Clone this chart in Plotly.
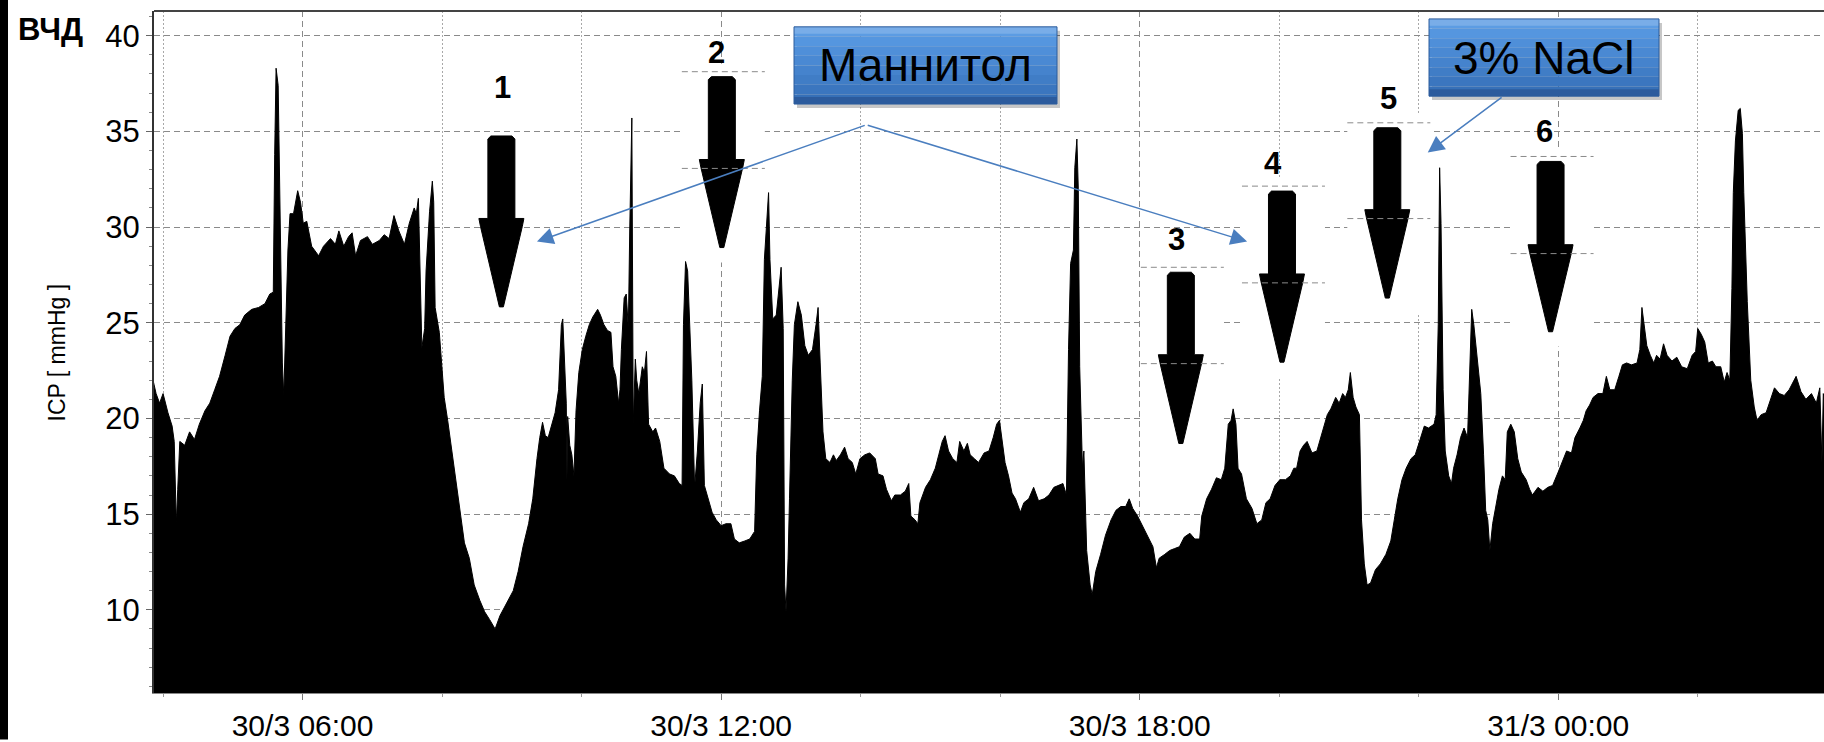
import plotly.graph_objects as go

# ---------------- data (hours since 30/3 00:00, ICP mmHg) ----------------
hours = [
    3.85, 3.90, 3.95, 4.00, 4.07, 4.13, 4.16, 4.19, 4.21, 4.24, 4.31, 4.38, 4.45, 4.52, 4.60, 4.67,
    4.74, 4.81, 4.89, 4.96, 5.03, 5.10, 5.17, 5.27, 5.37, 5.46, 5.53, 5.58, 5.60, 5.62, 5.65, 5.68,
    5.71, 5.73, 5.76, 5.79, 5.82, 5.87, 5.93, 5.97, 6.01, 6.06, 6.13, 6.23, 6.30, 6.40, 6.47, 6.52,
    6.59, 6.66, 6.71, 6.76, 6.83, 6.93, 7.00, 7.10, 7.17, 7.24, 7.31, 7.38, 7.46, 7.53, 7.60, 7.63,
    7.66, 7.68, 7.71, 7.75, 7.77, 7.82, 7.86, 7.88, 7.90, 7.96, 8.00, 8.03, 8.08, 8.13, 8.18, 8.23,
    8.28, 8.32, 8.39, 8.46, 8.54, 8.61, 8.68, 8.76, 8.83, 8.92, 9.02, 9.09, 9.16, 9.24, 9.30, 9.36,
    9.40, 9.44, 9.48, 9.52, 9.57, 9.62, 9.67, 9.71, 9.73, 9.75, 9.78, 9.79, 9.80, 9.83,
    9.86, 9.89, 9.92, 9.96, 10.01, 10.06, 10.11, 10.16, 10.23, 10.27, 10.32, 10.37, 10.42, 10.45,
    10.49, 10.53, 10.55, 10.57, 10.61, 10.64, 10.67, 10.69, 10.72, 10.74, 10.77, 10.79, 10.82, 10.87,
    10.90, 10.93, 10.96, 11.02, 11.06, 11.12, 11.18, 11.26, 11.33, 11.40, 11.44, 11.46, 11.49, 11.52,
    11.55, 11.58, 11.62, 11.66, 11.70, 11.73, 11.76, 11.81, 11.87, 11.93, 12.00, 12.07, 12.14, 12.19,
    12.26, 12.34, 12.41, 12.48, 12.51, 12.55, 12.59, 12.62, 12.66, 12.68, 12.70, 12.74, 12.79, 12.83,
    12.86, 12.89, 12.91, 12.93, 12.96, 12.98, 13.02, 13.05, 13.10, 13.15, 13.20, 13.25, 13.31, 13.36,
    13.39, 13.42, 13.46, 13.50, 13.56, 13.61, 13.65, 13.71, 13.77, 13.82, 13.88, 13.93, 13.99, 14.06,
    14.13, 14.21, 14.25, 14.32, 14.37, 14.44, 14.49, 14.57, 14.64, 14.69, 14.72, 14.78, 14.82, 14.85,
    14.93, 15.00, 15.07, 15.12, 15.17, 15.21, 15.26, 15.32, 15.38, 15.42, 15.48, 15.53, 15.57, 15.63,
    15.69, 15.77, 15.84,
    15.90, 15.95, 15.99, 16.02, 16.07, 16.12, 16.17, 16.22, 16.29, 16.34, 16.41, 16.48, 16.55, 16.63,
    16.70, 16.77, 16.84, 16.90, 16.95, 16.98, 17.01, 17.05, 17.07, 17.10, 17.12, 17.14, 17.18, 17.20,
    17.24, 17.29, 17.32, 17.37, 17.44, 17.51, 17.59, 17.66, 17.73, 17.80, 17.85, 17.90, 17.97, 18.04,
    18.12, 18.19, 18.24, 18.28, 18.36, 18.43, 18.50, 18.57, 18.64, 18.72, 18.79, 18.86, 18.89, 18.96,
    19.03, 19.10, 19.17, 19.22, 19.27, 19.31, 19.34, 19.38, 19.41, 19.46, 19.53, 19.61, 19.68, 19.75,
    19.81, 19.87, 19.94, 20.01, 20.09, 20.16, 20.21, 20.25, 20.30, 20.35, 20.40, 20.47, 20.54, 20.62,
    20.69, 20.74, 20.81, 20.86, 20.91, 20.95, 20.99, 21.02, 21.06, 21.10, 21.15, 21.18, 21.22, 21.26,
    21.31, 21.38, 21.45, 21.53, 21.60, 21.65, 21.70, 21.76, 21.82, 21.89,
    21.95, 22.02, 22.08, 22.14, 22.22, 22.25, 22.28, 22.30, 22.32, 22.35, 22.38, 22.43, 22.47, 22.50,
    22.55, 22.60, 22.65, 22.70, 22.74, 22.76, 22.79, 22.84, 22.89, 22.93, 22.96, 22.99, 23.02, 23.06,
    23.11, 23.15, 23.20, 23.24, 23.27, 23.32, 23.37, 23.42, 23.47, 23.54, 23.59, 23.63, 23.71, 23.78,
    23.85, 23.92, 24.00, 24.07, 24.12, 24.19, 24.24, 24.31, 24.36, 24.40, 24.45, 24.50, 24.57, 24.64,
    24.69, 24.74, 24.81, 24.87, 24.92, 24.98, 25.05, 25.13, 25.17, 25.20, 25.23, 25.27, 25.32, 25.37,
    25.41, 25.46, 25.51, 25.56, 25.63, 25.70, 25.77, 25.85, 25.92, 25.97, 26.00, 26.05, 26.10, 26.15,
    26.21, 26.26, 26.33, 26.38, 26.42, 26.46, 26.49, 26.51, 26.54, 26.58, 26.61, 26.64, 26.66, 26.71,
    26.76, 26.81, 26.85, 26.91, 26.98, 27.02, 27.10, 27.17, 27.24, 27.31, 27.41, 27.48, 27.55, 27.63,
    27.70, 27.75, 27.78, 27.80, 27.85,
]
icp = [
    22.1, 21.3, 20.8, 21.3, 20.3, 19.6, 18.8, 14.5, 16.3, 18.8, 18.6, 19.3, 18.9, 19.7, 20.4, 20.8,
    21.5, 22.2, 23.3, 24.3, 24.7, 24.9, 25.4, 25.7, 25.8, 26.0, 26.5, 26.6, 33.8, 38.3, 37.4, 30.1,
    22.9, 21.2, 25.2, 28.8, 30.7, 30.7, 31.9, 31.3, 30.2, 30.3, 29.0, 28.5, 29.0, 29.4, 29.1, 29.8,
    29.0, 29.5, 29.7, 28.5, 29.3, 29.5, 29.1, 29.3, 29.6, 29.4, 30.6, 29.8, 29.1, 30.2, 31.0, 30.7,
    31.5, 28.8, 23.7, 24.7, 27.7, 30.8, 32.4, 31.3, 25.8, 24.5, 22.4, 21.1, 19.9, 18.6, 17.2, 15.8,
    14.7, 13.5, 12.7, 11.3, 10.5, 9.9, 9.5, 9.0, 9.7, 10.3, 11.0, 12.0, 13.3, 14.5, 15.8, 17.9,
    19.0, 19.8, 19.1, 19.0, 19.6, 20.3, 21.5, 24.9, 25.2, 23.6, 20.8, 16.8, 20.1, 18.6,
    18.1, 17.0, 20.4, 22.4, 23.6, 24.3, 24.9, 25.3, 25.7, 25.4, 24.9, 24.6, 24.5, 22.7,
    22.2, 20.8, 21.5, 23.6, 26.3, 26.5, 24.7, 29.9, 35.7, 19.7, 23.1, 22.0, 21.3, 22.7,
    22.4, 23.5, 19.7, 19.3, 19.5, 18.8, 17.4, 17.1, 17.0, 16.6, 16.5, 24.9, 28.2, 27.7,
    24.5, 22.0, 16.4, 18.3, 20.8, 21.8, 16.5, 15.8, 15.1, 14.7, 14.4, 14.5, 14.5, 13.7,
    13.5, 13.6, 13.7, 14.1, 18.1, 20.4, 22.2, 28.3, 30.4, 31.8, 28.3, 25.2, 25.4, 27.0,
    27.9, 24.7, 11.3, 9.9, 12.7, 15.8, 22.0, 24.9, 26.1, 25.4, 23.8, 23.3, 23.6, 24.9,
    25.8, 22.9, 19.3, 17.9, 17.7, 18.1, 17.8, 18.1, 18.5, 17.9, 17.7, 17.1, 17.9, 18.1,
    18.2, 17.9, 17.1, 17.0, 16.3, 15.7, 16.0, 16.0, 16.2, 16.6, 14.9, 14.7, 14.5, 15.6,
    16.4, 16.8, 17.4, 18.1, 18.8, 19.1, 18.3, 17.9, 17.7, 18.8, 18.3, 18.7, 18.1, 17.9,
    17.7, 18.2, 18.3,
    19.0, 19.7, 19.9, 19.0, 17.7, 17.0, 16.1, 15.8, 15.1, 15.6, 15.8, 16.4, 15.7, 15.8,
    16.0, 16.4, 16.5, 16.6, 16.0, 23.6, 28.1, 28.8, 33.1, 34.6, 32.0, 22.7, 17.4, 18.3,
    13.1, 11.3, 10.8, 12.0, 12.9, 13.9, 14.7, 15.2, 15.4, 15.4, 15.8, 15.3, 14.9, 14.4,
    13.8, 13.3, 12.2, 12.7, 12.9, 13.1, 13.2, 13.3, 13.8, 14.0, 13.7, 13.7, 14.9, 15.8,
    16.3, 16.9, 16.8, 17.4, 19.7, 19.9, 20.5, 19.7, 17.4, 17.1, 15.8, 15.3, 14.5, 14.7,
    15.6, 15.8, 16.5, 16.8, 16.8, 17.0, 17.4, 17.4, 18.3, 18.6, 18.8, 18.2, 18.3, 19.3,
    20.2, 20.5, 21.1, 20.8, 21.3, 21.1, 21.5, 22.4, 21.1, 20.6, 20.2, 14.7, 12.4, 11.3,
    11.4, 12.1, 12.4, 12.9, 13.6, 14.7, 15.8, 16.8, 17.4, 17.9,
    18.1, 18.9, 19.6, 19.5, 19.7, 20.2, 24.9, 33.1, 30.2, 21.5, 18.3, 17.0, 16.6, 17.4,
    18.1, 19.0, 19.5, 19.0, 23.1, 25.7, 24.9, 22.9, 21.3, 18.1, 15.2, 14.7, 13.1, 14.5,
    15.6, 16.3, 17.0, 16.8, 19.3, 19.7, 19.3, 17.9, 17.2, 16.8, 16.3, 16.0, 16.4, 16.2,
    16.4, 16.5, 17.2, 17.9, 18.3, 18.2, 19.0, 19.5, 19.9, 20.4, 20.7, 21.1, 21.3, 21.3,
    22.2, 21.5, 21.5, 22.2, 22.8, 22.9, 22.8, 22.9, 23.6, 25.8, 24.9, 23.8, 23.3, 22.9,
    23.3, 23.1, 23.9, 23.3, 23.0, 23.2, 22.7, 22.6, 23.3, 23.5, 24.7, 24.4, 24.0, 22.9,
    23.0, 22.7, 22.7, 21.9, 22.4, 22.0, 26.8, 31.8, 34.5, 36.1, 36.2, 34.9, 31.8, 26.1,
    22.0, 20.6, 19.9, 20.2, 20.3, 20.7, 21.6, 21.3, 21.2, 21.5, 22.2, 21.4, 21.0, 21.3,
    20.8, 21.6, 17.7, 21.3, 20.2,
]

# x tick labels
tick_hours = [6, 12, 18, 24]
tick_text = ["30/3 06:00", "30/3 12:00", "30/3 18:00", "31/3 00:00"]
minor_hours = [4, 8, 10, 14, 16, 20, 22, 26]

# numbered bolus arrows (hour, top, head base, tip values, label position)
arrow_labels = ["1", "2", "3", "4", "5", "6"]
arrow_hour = [8.85, 12.01, 18.59, 20.04, 21.55, 23.89]
arrow_top = [34.76, 37.86, 27.64, 31.88, 35.19, 33.43]
arrow_base = [30.45, 33.53, 23.33, 27.55, 30.91, 29.08]
arrow_tip = [25.83, 28.93, 18.69, 22.94, 26.29, 24.53]
label_hour = [8.86, 11.93, 18.53, 19.91, 21.56, 23.81]
label_val = [37.29, 39.10, 29.36, 33.33, 36.74, 34.98]
arrow_boxed = [False, True, True, True, True, True]

# callouts: (apex) -> (targets)
mannitol_apex = (14.08, 35.34)
mannitol_targets = [(9.36, 29.24), (19.54, 29.24)]
nacl_tail = (23.21, 36.84)
nacl_target = (22.13, 33.90)

# ---------------- layout geometry ----------------
W, H = 1824, 742
ML, MR, MT, MB = 154, 0, 11, 42
PW, PH = W - ML - MR, H - MT - MB
XR = [3.87, 27.81]
YR = [5.655, 41.29]
PXH = PW / (XR[1] - XR[0])  # px per hour
PXU = PH / (YR[1] - YR[0])  # px per mmHg

def px(xp):
    return (xp - ML) / PW

def py(yp):
    return (H - MB - yp) / PH

FONT = "Liberation Sans, Arial, sans-serif"

fig = go.Figure()
fig.add_trace(go.Scatter(
    x=hours, y=icp, mode="lines", fill="tozeroy",
    line=dict(color="black", width=1), fillcolor="black",
    hoverinfo="skip", showlegend=False,
))

shapes = []
annotations = []

# white patches + dashes + arrows
for i in range(len(arrow_hour)):
    xc = arrow_hour[i]
    top, base, tip = arrow_top[i], arrow_base[i], arrow_tip[i]
    dl, dr = xc - 40 / PXH, xc + 43 / PXH
    top_d = top + 5 / PXU
    base_d = base - 9 / PXU
    if arrow_boxed[i]:
        shapes.append(dict(type="rect", xref="x", yref="y", x0=dl, x1=dr,
                           y0=tip - 15 / PXU, y1=top_d + 8 / PXU,
                           fillcolor="white", line=dict(width=0), layer="between"))
    sw, hw, tw = 13.5 / PXH, 22.5 / PXH, 2 / PXH
    f = 8 / PXU
    r = 3 / PXU
    path = (f"M {xc - sw},{base} L {xc - sw},{top - r} L {xc - sw + 3 / PXH},{top} "
            f"L {xc + sw - 3 / PXH},{top} L {xc + sw},{top - r} L {xc + sw},{base} "
            f"L {xc + hw},{base} L {xc + hw * 0.93},{base - f} L {xc + tw},{tip} "
            f"L {xc - tw},{tip} L {xc - hw * 0.93},{base - f} L {xc - hw},{base} Z")
    shapes.append(dict(type="path", xref="x", yref="y", path=path,
                       fillcolor="black", line=dict(color="black", width=1), layer="above"))
    if arrow_boxed[i]:
        for yv in (top_d, base_d):
            shapes.append(dict(type="line", xref="x", yref="y", x0=dl, x1=dr, y0=yv, y1=yv,
                               line=dict(color="#8a8a8a", width=1, dash="6px,4px"), layer="above"))
    annotations.append(dict(x=label_hour[i], y=label_val[i], xref="x", yref="y",
                            xanchor="center", yanchor="middle",
                            text=f"<b>{arrow_labels[i]}</b>", showarrow=False,
                            font=dict(family=FONT, size=31, color="black")))

# blue callout boxes
def callout(x0, y0, x1, y1, text):
    shapes.append(dict(type="rect", xref="paper", yref="paper",
                       x0=px(x0 + 3), x1=px(x1 + 3), y0=py(y1 + 4), y1=py(y0 + 4),
                       fillcolor="rgba(0,0,0,0.22)", line=dict(width=0), layer="above"))
    bands = ["#5c9ce3", "#5596df", "#4f8fd9", "#4a89d3", "#4583cd", "#407dc6", "#3b76bf", "#3670b8"]
    n = len(bands)
    for k, c in enumerate(bands):
        ya = y0 + (y1 - y0) * k / n
        yb = y0 + (y1 - y0) * (k + 1) / n
        shapes.append(dict(type="rect", xref="paper", yref="paper",
                           x0=px(x0), x1=px(x1), y0=py(yb), y1=py(ya),
                           fillcolor=c, line=dict(width=0), layer="above"))
    # bevel highlights
    shapes.append(dict(type="rect", xref="paper", yref="paper",
                       x0=px(x0), x1=px(x1), y0=py(y0 + 7), y1=py(y0),
                       fillcolor="rgba(255,255,255,0.18)", line=dict(width=0), layer="above"))
    shapes.append(dict(type="rect", xref="paper", yref="paper",
                       x0=px(x0), x1=px(x1), y0=py(y1), y1=py(y1 - 7),
                       fillcolor="rgba(0,0,40,0.18)", line=dict(width=0), layer="above"))
    shapes.append(dict(type="rect", xref="paper", yref="paper",
                       x0=px(x0), x1=px(x1), y0=py(y1), y1=py(y0),
                       fillcolor="rgba(0,0,0,0)", line=dict(color="#2c5c9c", width=1), layer="above"))
    annotations.append(dict(x=px((x0 + x1) / 2), y=py((y0 + y1) / 2), xref="paper", yref="paper",
                            xanchor="center", yanchor="middle",
                            text=text, showarrow=False,
                            font=dict(family=FONT, size=46, color="black")))

callout(794, 27, 1057, 105, "Маннитол")
callout(1429, 19, 1659, 97, "3% NaCl")

# blue pointer lines
for tx, ty in mannitol_targets:
    annotations.append(dict(x=tx, y=ty, xref="x", yref="y", ax=mannitol_apex[0], ay=mannitol_apex[1],
                            axref="x", ayref="y", text="", showarrow=True, arrowhead=2,
                            arrowsize=2.2, arrowwidth=1.5, arrowcolor="#4a7ebf"))
annotations.append(dict(x=nacl_target[0], y=nacl_target[1], xref="x", yref="y",
                        ax=nacl_tail[0], ay=nacl_tail[1], axref="x", ayref="y", text="",
                        showarrow=True, arrowhead=2, arrowsize=2.2, arrowwidth=1.5,
                        arrowcolor="#4a7ebf"))

# frame decorations
shapes.append(dict(type="line", xref="paper", yref="paper", x0=0, x1=1, y0=1, y1=1,
                   line=dict(color="#444444", width=2), layer="above"))
shapes.append(dict(type="rect", xref="paper", yref="paper", x0=px(0), x1=px(8),
                   y0=py(H + 5), y1=py(-5), fillcolor="black", line=dict(width=0), layer="above"))

annotations.append(dict(x=px(16), y=py(30), xref="paper", yref="paper", xanchor="left",
                        yanchor="middle", text="<b>ВЧД</b>", showarrow=False,
                        font=dict(family=FONT, size=31, color="black")))
annotations.append(dict(x=px(57), y=py(356), xref="paper", yref="paper", text="ICP [ mmHg ]",
                        xanchor="center", yanchor="middle",
                        textangle=-90, showarrow=False,
                        font=dict(family=FONT, size=23, color="black")))

fig.update_layout(
    width=W, height=H,
    margin=dict(l=ML, r=MR, t=MT, b=MB),
    paper_bgcolor="white", plot_bgcolor="white",
    showlegend=False,
    shapes=shapes, annotations=annotations,
    xaxis=dict(
        range=XR, tickmode="array", tickvals=tick_hours, ticktext=tick_text,
        ticks="outside", ticklen=6, tickcolor="#777777",
        tickfont=dict(family=FONT, size=30, color="black"),
        showline=True, linecolor="#888888", linewidth=1,
        showgrid=True, gridcolor="#8a8a8a", gridwidth=1, griddash="6px,4px",
        zeroline=False,
        minor=dict(tickmode="array", tickvals=minor_hours, ticks="outside", ticklen=3,
                   tickcolor="#999999", showgrid=True, gridcolor="#a8a8a8",
                   griddash="2px,2px", gridwidth=1),
    ),
    yaxis=dict(
        range=YR, tick0=0, dtick=5,
        ticks="outside", ticklen=6, tickcolor="#666666",
        tickfont=dict(family=FONT, size=31, color="black"),
        showline=True, linecolor="#333333", linewidth=2,
        showgrid=True, gridcolor="#8a8a8a", gridwidth=1, griddash="6px,4px",
        zeroline=False,
        minor=dict(dtick=1, ticks="outside", ticklen=3, tickcolor="#888888", showgrid=False),
    ),
)

fig.write_html("out.html", config={"displayModeBar": False},
               post_script="document.body.style.margin='0';document.body.style.overflow='hidden';")
